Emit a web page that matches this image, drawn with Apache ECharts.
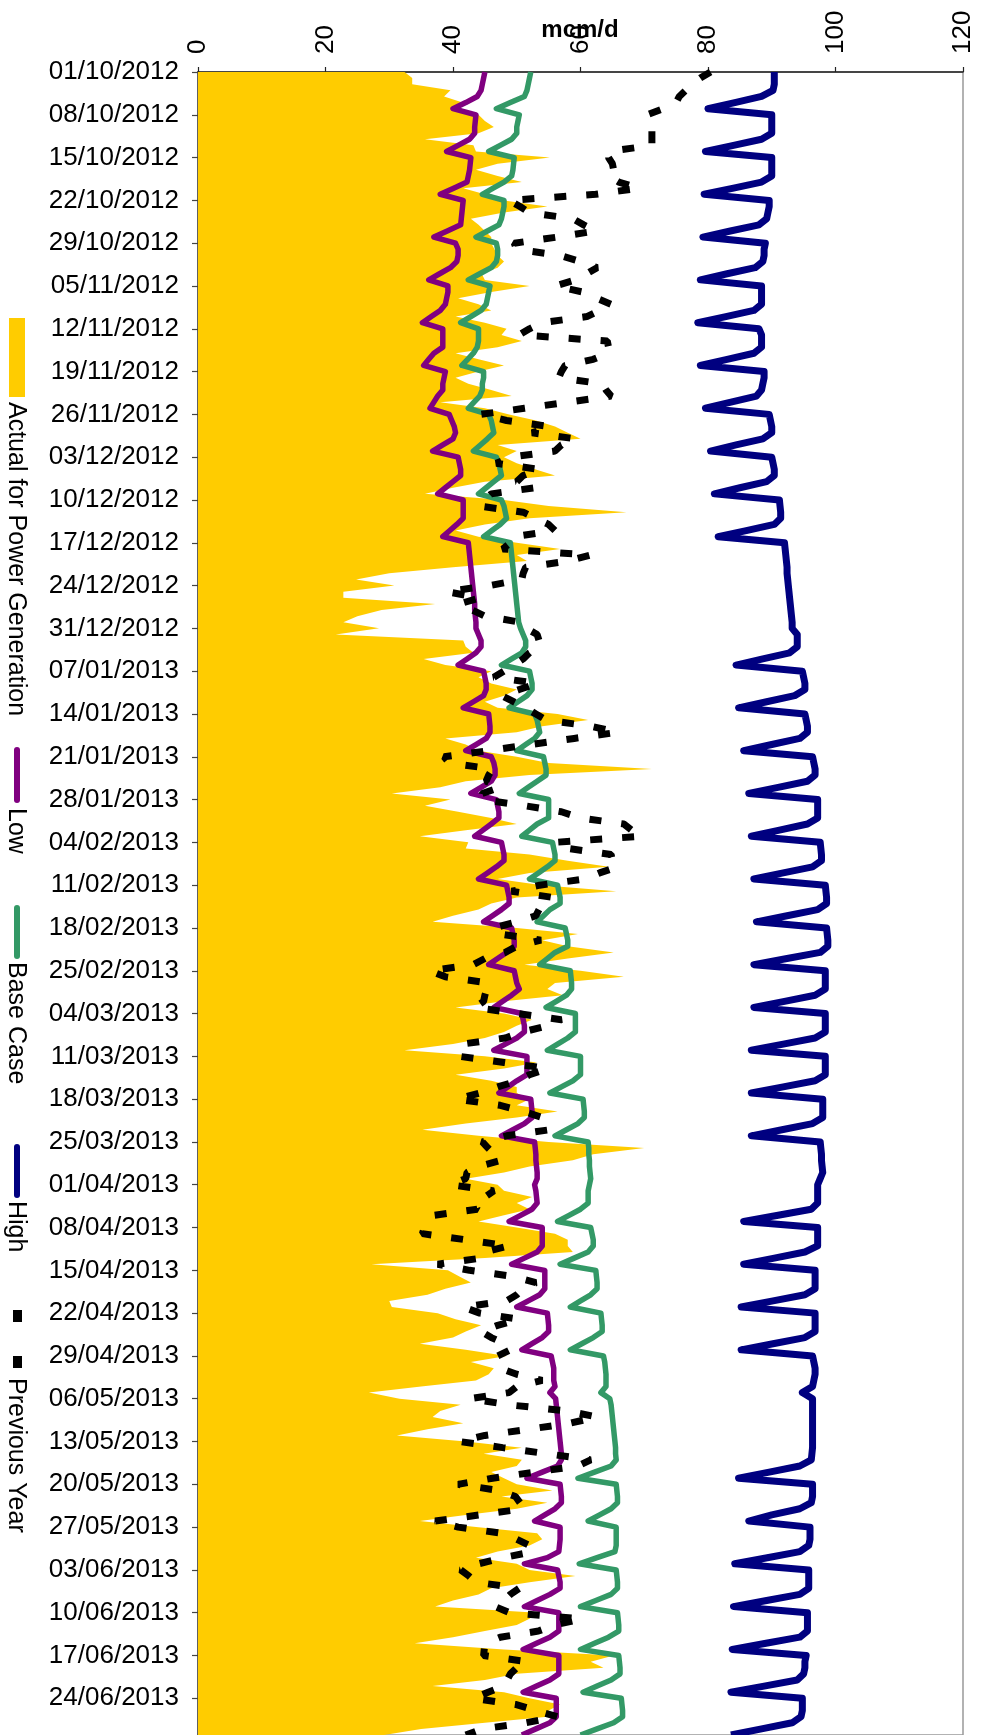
<!DOCTYPE html>
<html>
<head>
<meta charset="utf-8">
<script src="https://cdn.jsdelivr.net/npm/echarts/dist/echarts.min.js"></script>
<style>
  html, body { margin: 0; padding: 0; background: #fff; overflow: hidden; }
  #chart { width: 983px; height: 1735px; }
</style>
</head>
<body>
<div id="chart"></div>
<script>
// ---- categories: one per day, 01/10/2012 .. 30/06/2013 ----
const startDate = [2012, 9, 1];   // year, month (0-based), day
const dayCount = 273;
const dates = [];
for (let i = 0; i < dayCount; i++) {
  const d = new Date(Date.UTC(startDate[0], startDate[1], startDate[2] + i));
  const dd = String(d.getUTCDate()).padStart(2, '0');
  const mm = String(d.getUTCMonth() + 1).padStart(2, '0');
  dates.push(dd + '/' + mm + '/' + d.getUTCFullYear());
}

// ---- value axis ticks ----
const valueTicks = [0, 20, 40, 60, 80, 100, 120];

// ---- series (mcm/d), one row per week Mon..Sun ----
const actualPower = [
  32.4, 33.6, 33.6, 39.6, 38.6, 41.5, 41.0,
  44.0, 45.0, 46.4, 44.0, 35.6, 43.2, 43.6,
  55.2, 47.0, 43.6, 47.0, 50.8, 41.6, 45.0,
  48.0, 54.8, 48.0, 42.8, 44.0, 45.0, 46.0,
  46.0, 46.5, 47.0, 48.0, 47.0, 44.5, 45.0,
  52.0, 46.0, 40.8, 44.0, 46.0, 40.4, 45.0,
  48.4, 47.6, 50.8, 47.0, 40.4, 44.0, 48.0,
  44.0, 40.4, 42.4, 46.0, 49.2, 38.0, 45.0,
  48.8, 53.0, 56.0, 58.0, 60.0, 47.0, 50.0,
  48.0, 50.0, 53.0, 56.0, 45.0, 40.0, 35.6,
  48.0, 55.0, 67.2, 52.0, 45.0, 40.4, 44.0,
  50.0, 56.8, 50.0, 51.6, 40.0, 30.0, 24.8,
  30.8, 22.8, 22.8, 37.2, 28.8, 25.0, 22.8,
  28.4, 21.6, 41.6, 42.0, 43.2, 35.4, 38.8,
  46.0, 44.0, 46.0, 50.0, 48.0, 45.0, 47.0,
  56.4, 61.2, 54.0, 50.0, 38.8, 42.0, 44.0,
  50.0, 55.0, 71.2, 52.0, 42.0, 38.0, 30.4,
  39.6, 35.6, 40.8, 46.0, 50.0, 42.0, 34.8,
  42.4, 42.0, 52.0, 58.0, 64.4, 52.0, 47.0,
  54.0, 65.6, 50.0, 46.0, 44.0, 40.0, 36.8,
  50.0, 59.6, 54.0, 58.0, 65.2, 58.0, 51.2,
  60.0, 66.8, 56.0, 54.8, 57.2, 48.0, 40.4,
  48.0, 52.4, 50.0, 48.0, 45.0, 40.0, 32.4,
  45.0, 53.2, 48.0, 40.4, 46.0, 50.0, 50.0,
  52.0, 50.0, 56.4, 50.0, 42.0, 35.2, 44.0,
  55.0, 70.0, 62.0, 58.8, 52.0, 48.0, 42.0,
  47.0, 48.0, 52.4, 50.0, 52.0, 48.0, 44.0,
  50.0, 56.0, 58.0, 58.0, 58.8, 45.0, 27.2,
  39.2, 41.0, 42.8, 38.8, 36.0, 30.0, 30.4,
  37.6, 40.4, 44.4, 42.0, 40.0, 34.8, 42.0,
  48.4, 42.8, 46.4, 45.6, 43.6, 35.0, 26.8,
  31.6, 41.2, 38.0, 36.8, 41.6, 36.0, 31.2,
  42.0, 50.8, 44.8, 50.8, 50.0, 46.0, 48.0,
  50.0, 55.6, 47.6, 54.8, 50.0, 42.0, 34.8,
  44.0, 53.2, 54.0, 52.0, 47.0, 43.6, 50.0,
  52.0, 59.2, 52.0, 46.0, 44.0, 40.0, 37.2,
  53.2, 52.0, 50.0, 45.0, 40.0, 34.0, 48.0,
  65.2, 61.6, 63.6, 50.0, 45.0, 36.8, 48.0,
  52.0, 56.8, 55.0, 54.8, 45.0, 35.0, 29.2
];

const lowCase = [
  45.0, 44.8, 44.6, 44.4, 43.8, 42.0, 40.0,
  43.6, 43.5, 43.4, 43.4, 42.6, 40.8, 39.0,
  42.8, 42.7, 42.6, 42.4, 42.2, 40.1, 38.0,
  41.6, 41.5, 41.4, 41.3, 41.2, 39.1, 37.0,
  40.4, 40.8, 40.8, 40.6, 39.6, 37.9, 36.2,
  39.2, 39.2, 39.0, 38.8, 38.0, 36.6, 35.2,
  38.4, 38.4, 38.4, 38.4, 37.0, 36.2, 35.4,
  38.8, 38.6, 38.4, 38.4, 37.6, 37.0, 36.4,
  39.4, 39.8, 40.2, 40.4, 40.0, 38.4, 36.8,
  40.8, 41.0, 41.2, 41.2, 40.0, 38.8, 37.6,
  41.6, 41.6, 41.6, 41.6, 40.6, 39.5, 38.4,
  42.4, 42.5, 42.6, 42.7, 42.8, 42.9, 43.0,
  43.1, 43.2, 43.3, 43.4, 43.4, 43.5, 43.6,
  43.6, 44.0, 44.4, 44.4, 43.6, 42.2, 40.8,
  44.8, 45.0, 45.2, 45.2, 44.8, 43.2, 41.6,
  45.6, 45.7, 45.8, 45.8, 45.2, 43.6, 42.0,
  46.0, 46.4, 46.6, 46.6, 46.0, 44.4, 42.8,
  46.8, 47.0, 47.2, 47.2, 46.0, 44.7, 43.4,
  47.6, 47.8, 48.0, 48.0, 46.8, 45.4, 44.0,
  48.4, 48.6, 48.8, 48.8, 47.6, 46.2, 44.8,
  49.2, 49.4, 49.6, 49.6, 48.4, 47.0, 45.6,
  49.6, 49.8, 50.0, 50.4, 49.2, 47.8, 46.4,
  50.8, 51.0, 51.2, 51.2, 50.0, 48.2, 46.4,
  51.6, 51.6, 51.6, 51.6, 50.0, 48.6, 47.2,
  52.2, 52.3, 52.4, 52.4, 51.2, 49.4, 47.6,
  52.8, 52.9, 53.0, 53.0, 53.1, 53.2, 53.2,
  52.8, 53.0, 53.1, 53.2, 52.4, 50.6, 48.8,
  54.0, 54.0, 54.0, 54.0, 53.2, 51.2, 49.2,
  54.4, 54.4, 54.4, 54.4, 53.6, 51.8, 50.0,
  54.8, 54.9, 55.0, 55.0, 54.0, 52.4, 50.8,
  55.4, 55.6, 55.8, 55.8, 55.8, 56.0, 55.2,
  56.1, 56.2, 56.3, 56.4, 56.5, 56.6, 56.7,
  56.8, 56.9, 57.0, 57.0, 56.4, 54.0, 51.6,
  56.8, 56.9, 57.0, 57.0, 56.0, 54.4, 52.8,
  56.8, 56.8, 56.8, 56.7, 56.6, 54.8, 51.2,
  56.4, 56.6, 56.8, 56.8, 55.2, 53.2, 51.2,
  56.6, 56.6, 56.6, 56.6, 55.2, 53.1, 51.0,
  56.6, 56.6, 56.6, 56.6, 55.2, 53.1, 51.0,
  56.2, 56.2, 56.2, 56.2, 55.2, 53.0, 50.8
];

const baseCase = [
  52.2, 52.0, 51.8, 51.6, 51.2, 49.0, 46.8,
  50.4, 50.2, 50.0, 50.0, 49.2, 47.4, 45.6,
  49.6, 49.5, 49.4, 49.2, 48.0, 46.3, 44.6,
  48.0, 48.0, 47.8, 47.6, 47.2, 45.4, 43.6,
  46.8, 47.0, 47.0, 46.8, 46.0, 44.2, 42.4,
  45.8, 45.6, 45.4, 45.2, 44.4, 42.8, 41.2,
  44.0, 44.0, 44.0, 43.8, 43.2, 42.3, 41.4,
  44.8, 44.8, 44.6, 44.6, 44.2, 43.3, 42.4,
  45.6, 46.0, 46.2, 46.4, 45.4, 44.3, 43.2,
  46.8, 47.2, 47.4, 47.6, 46.4, 45.2, 44.0,
  47.6, 48.0, 48.2, 48.4, 47.4, 46.1, 44.8,
  49.0, 49.1, 49.2, 49.3, 49.4, 49.5, 49.6,
  49.7, 49.8, 49.9, 50.0, 50.1, 50.2, 50.3,
  50.6, 51.0, 51.4, 51.4, 50.8, 49.2, 47.6,
  52.0, 52.2, 52.4, 52.4, 51.6, 50.2, 48.8,
  52.8, 53.2, 53.4, 53.6, 52.8, 51.4, 50.0,
  54.2, 54.4, 54.6, 54.6, 53.2, 51.8, 50.4,
  55.0, 55.0, 55.0, 55.0, 53.2, 52.0, 50.8,
  55.6, 55.8, 56.0, 56.0, 54.8, 53.4, 52.0,
  56.4, 56.6, 56.8, 56.8, 55.2, 54.2, 53.2,
  57.6, 57.8, 58.0, 58.0, 56.0, 54.8, 53.6,
  58.4, 58.5, 58.6, 58.6, 57.8, 56.2, 54.6,
  59.2, 59.2, 59.2, 59.2, 58.0, 56.4, 54.8,
  60.0, 60.0, 60.0, 60.0, 58.8, 57.0, 55.2,
  60.4, 60.5, 60.6, 60.6, 59.6, 57.8, 56.0,
  61.2, 61.3, 61.3, 61.4, 61.4, 61.5, 61.6,
  61.4, 61.2, 61.2, 61.2, 60.0, 58.2, 56.4,
  61.6, 61.8, 62.0, 62.0, 61.2, 59.0, 56.8,
  62.4, 62.5, 62.6, 62.6, 61.6, 60.0, 58.4,
  63.2, 63.3, 63.4, 63.4, 62.0, 60.2, 58.4,
  63.6, 63.8, 63.9, 64.0, 64.0, 64.0, 63.2,
  64.6, 64.8, 64.9, 65.0, 65.1, 65.2, 65.3,
  65.4, 65.5, 65.5, 65.6, 64.8, 62.2, 59.6,
  65.6, 65.7, 65.8, 65.8, 64.8, 63.0, 61.2,
  65.6, 65.6, 65.6, 65.6, 65.4, 62.6, 59.8,
  65.6, 65.7, 65.8, 65.8, 64.8, 62.4, 60.0,
  65.8, 65.9, 66.0, 66.0, 64.4, 62.2, 60.0,
  66.0, 66.1, 66.2, 66.2, 64.8, 62.6, 60.4,
  66.4, 66.5, 66.6, 66.6, 65.2, 62.6, 60.0
];

const highCase = [
  90.4, 90.4, 90.4, 90.2, 88.4, 84.2, 80.0,
  90.0, 90.0, 90.0, 90.0, 88.4, 84.0, 79.6,
  90.0, 90.0, 90.0, 90.0, 88.4, 84.0, 79.4,
  89.6, 89.6, 89.4, 89.2, 88.0, 83.5, 79.2,
  89.0, 88.8, 88.8, 88.6, 87.4, 83.0, 78.8,
  88.4, 88.4, 88.4, 88.4, 87.2, 82.8, 78.4,
  88.0, 88.4, 88.4, 88.4, 87.2, 83.0, 78.8,
  88.8, 88.8, 88.6, 88.4, 87.6, 83.6, 79.6,
  89.6, 89.8, 90.0, 90.0, 88.6, 84.4, 80.4,
  90.0, 90.2, 90.4, 90.4, 89.2, 85.0, 81.0,
  91.2, 91.3, 91.4, 91.4, 90.4, 86.0, 81.6,
  92.0, 92.1, 92.2, 92.3, 92.4, 92.4, 92.5,
  92.6, 92.7, 92.8, 92.9, 93.0, 93.1, 93.2,
  93.2, 94.0, 94.0, 94.0, 92.8, 88.6, 84.4,
  94.8, 95.0, 95.2, 95.2, 93.6, 89.2, 84.8,
  95.2, 95.4, 95.6, 95.6, 94.4, 90.0, 85.6,
  96.4, 96.6, 96.8, 96.8, 95.6, 91.0, 86.4,
  97.2, 97.2, 97.2, 97.2, 95.6, 91.2, 86.8,
  97.6, 97.7, 97.8, 97.8, 96.4, 91.8, 87.2,
  98.4, 98.5, 98.6, 98.6, 97.2, 92.4, 87.6,
  98.6, 98.7, 98.8, 98.8, 97.6, 92.4, 87.2,
  98.4, 98.4, 98.4, 98.4, 96.8, 92.0, 87.2,
  98.4, 98.4, 98.4, 98.4, 96.8, 91.8, 86.8,
  98.4, 98.4, 98.4, 98.4, 96.8, 91.8, 86.8,
  98.0, 98.0, 98.0, 98.0, 96.4, 91.6, 86.8,
  97.6, 97.7, 97.8, 97.8, 97.9, 98.0, 97.6,
  97.2, 97.2, 97.2, 97.2, 96.2, 91.0, 85.6,
  97.2, 97.2, 97.2, 97.2, 95.2, 90.4, 85.6,
  96.8, 96.8, 96.8, 96.8, 95.2, 90.2, 85.2,
  96.8, 96.8, 96.8, 96.8, 95.2, 90.2, 85.2,
  96.4, 96.6, 96.8, 96.8, 96.6, 96.4, 94.8,
  96.4, 96.4, 96.4, 96.4, 96.4, 96.4, 96.4,
  96.4, 96.4, 96.3, 96.2, 94.4, 89.6, 84.8,
  96.4, 96.4, 96.4, 96.2, 94.4, 90.0, 86.4,
  96.0, 96.0, 96.0, 95.8, 94.4, 89.3, 84.2,
  95.8, 95.8, 95.8, 95.8, 94.4, 89.2, 84.0,
  95.6, 95.6, 95.6, 95.6, 94.4, 89.1, 83.8,
  95.4, 95.2, 95.2, 95.0, 94.0, 88.8, 83.6,
  94.8, 94.8, 94.8, 94.6, 93.2, 88.4, 83.6
];

const previousYear = [
  80.4, 78.8, 77.5, 76.5, 75.5, 75.0, 73.0,
  70.4, 70.8, 71.2, 71.2, 71.2, 71.2, 64.4,
  64.4, 65.0, 65.2, 64.4, 66.0, 69.2, 62.4,
  48.8, 50.5, 52.0, 58.8, 60.5, 62.4, 56.4,
  49.6, 50.0, 56.8, 60.0, 62.6, 61.0, 59.2,
  56.0, 60.4, 62.5, 64.8, 63.0, 61.0, 54.0,
  52.0, 50.4, 64.2, 64.4, 64.4, 62.0, 57.6,
  57.0, 56.6, 63.4, 64.0, 64.8, 58.0, 51.2,
  44.4, 48.4, 55.2, 52.4, 59.2, 57.0, 56.0,
  49.0, 46.8, 53.6, 51.0, 50.0, 52.8, 46.0,
  45.0, 44.2, 51.0, 53.0, 55.0, 56.0, 49.6,
  49.0, 47.8, 61.6, 58.0, 51.4, 51.0, 50.8,
  45.8, 39.0, 44.2, 41.0, 43.0, 45.0, 50.6,
  51.5, 53.2, 53.5, 53.8, 52.0, 51.0, 49.6,
  48.0, 46.4, 53.2, 50.4, 47.6, 49.5, 51.4,
  53.0, 54.6, 61.6, 65.8, 59.0, 52.2, 45.6,
  38.6, 39.4, 46.2, 45.6, 45.2, 47.4, 44.6,
  44.4, 51.2, 57.0, 60.0, 66.8, 68.0, 69.6,
  56.0, 58.0, 64.8, 65.0, 65.8, 63.0, 60.6,
  53.6, 49.2, 55.6, 54.5, 53.5, 53.0, 50.0,
  46.4, 47.4, 53.8, 50.0, 48.2, 45.0, 43.2,
  36.4, 38.8, 45.6, 45.3, 45.0, 44.8, 43.4,
  50.2, 57.0, 54.8, 51.0, 48.2, 41.4, 41.2,
  41.0, 48.0, 54.8, 52.0, 50.2, 47.0, 44.2,
  40.6, 47.4, 51.0, 54.0, 55.0, 55.2, 48.4,
  44.6, 45.5, 46.5, 47.6, 44.0, 42.2, 42.0,
  39.6, 46.4, 45.0, 43.4, 43.8, 37.0, 36.0,
  35.5, 35.2, 42.0, 48.8, 45.0, 44.4, 37.6,
  42.6, 49.4, 53.0, 51.0, 50.0, 48.4, 41.6,
  44.2, 50.4, 47.0, 44.4, 46.0, 48.2, 49.0,
  47.0, 47.2, 47.4, 50.0, 54.0, 50.0, 48.8,
  42.6, 48.8, 58.0, 62.6, 58.4, 51.8, 45.0,
  41.0, 47.8, 54.8, 61.6, 59.6, 52.8, 46.2,
  40.8, 47.2, 49.8, 50.5, 51.0, 44.2, 37.2,
  40.8, 47.6, 50.0, 52.0, 52.6, 47.8, 44.0,
  41.2, 42.5, 43.6, 50.4, 49.0, 48.0, 46.6,
  48.9, 60.2, 56.0, 53.4, 47.4, 45.0, 44.9,
  44.8, 51.6, 50.0, 49.0, 48.5, 48.0, 45.5,
  43.2, 49.8, 53.0, 56.4, 51.4, 44.6, 42.0
];

const seriesNames = ['Actual for Power Generation', 'Low', 'Base Case', 'High', 'Previous Year'];
const seriesColors = ['#FFCC00', '#800080', '#339966', '#000080', '#000000'];
const axisTitle = 'mcm/d';

const FONT = '"Liberation Sans", Arial, Helvetica, sans-serif';

const chart = echarts.init(document.getElementById('chart'), null, { renderer: 'canvas' });

function legendText(text, x, y) {
  return {
    type: 'text', x: x, y: y, rotation: -Math.PI / 2,
    style: {
      text: text, fill: '#000', font: '25px ' + FONT,
      textAlign: 'left', textVerticalAlign: 'middle', align: 'left', verticalAlign: 'middle'
    }
  };
}
function legendLine(color, y1, y2) {
  return {
    type: 'line', shape: { x1: 17, y1: y1, x2: 17, y2: y2 },
    style: { stroke: color, lineWidth: 6, lineCap: 'round' }
  };
}

const option = {
  animation: false,
  backgroundColor: '#ffffff',
  grid: {
    left: 198, right: 20, top: 72, bottom: -2,
    show: true, borderColor: '#999', borderWidth: 1.5, backgroundColor: 'transparent'
  },
  xAxis: {
    type: 'value', position: 'top',
    min: valueTicks[0], max: valueTicks[valueTicks.length - 1], interval: 20,
    axisLine: { show: true, onZero: false, lineStyle: { color: '#222', width: 1.5 } },
    axisTick: { show: true, length: 5, lineStyle: { color: '#222', width: 1.2 } },
    splitLine: { show: false },
    axisLabel: { rotate: -90, margin: 18, fontSize: 26, color: '#000', fontFamily: FONT }
  },
  yAxis: {
    type: 'category', inverse: true, boundaryGap: false, data: dates,
    axisLine: { show: true, lineStyle: { color: '#444', width: 1.5 } },
    axisTick: { show: true, interval: 6, length: 6, lineStyle: { color: '#444', width: 1.2 } },
    splitLine: { show: false },
    axisLabel: { interval: 6, margin: 19, fontSize: 26, color: '#000', fontFamily: FONT }
  },
  series: [
    {
      name: seriesNames[0], type: 'line', data: actualPower, showSymbol: false, symbol: 'none',
      lineStyle: { width: 0, color: seriesColors[0] },
      areaStyle: { color: seriesColors[0], opacity: 1 },
      z: 1
    },
    {
      name: seriesNames[1], type: 'line', data: lowCase, showSymbol: false, symbol: 'none',
      lineStyle: { width: 5.5, color: seriesColors[1], join: 'round' }, z: 2
    },
    {
      name: seriesNames[2], type: 'line', data: baseCase, showSymbol: false, symbol: 'none',
      lineStyle: { width: 5.5, color: seriesColors[2], join: 'round' }, z: 3
    },
    {
      name: seriesNames[3], type: 'line', data: highCase, showSymbol: false, symbol: 'none',
      lineStyle: { width: 7, color: seriesColors[3], join: 'round' }, z: 4
    },
    {
      name: seriesNames[4], type: 'line', data: previousYear, showSymbol: false, symbol: 'none',
      lineStyle: { width: 7, color: seriesColors[4], type: [12, 20], cap: 'butt' }, z: 5
    }
  ],
  graphic: [
    {
      type: 'text', x: 580, y: 30,
      style: {
        text: axisTitle, fill: '#000', font: 'bold 24px ' + FONT,
        textAlign: 'center', textVerticalAlign: 'middle', align: 'center', verticalAlign: 'middle'
      }
    },
    { type: 'rect', shape: { x: 9, y: 318, width: 16, height: 79 }, style: { fill: seriesColors[0] } },
    legendText(seriesNames[0], 16, 402),
    legendLine(seriesColors[1], 750, 800),
    legendText(seriesNames[1], 16, 808),
    legendLine(seriesColors[2], 908, 956),
    legendText(seriesNames[2], 16, 962),
    legendLine(seriesColors[3], 1147, 1195),
    legendText(seriesNames[3], 16, 1201),
    { type: 'rect', shape: { x: 13, y: 1310, width: 9, height: 12 }, style: { fill: '#000' } },
    { type: 'rect', shape: { x: 13, y: 1356, width: 9, height: 12 }, style: { fill: '#000' } },
    legendText(seriesNames[4], 16, 1378)
  ]
};

chart.setOption(option);
</script>
</body>
</html>
